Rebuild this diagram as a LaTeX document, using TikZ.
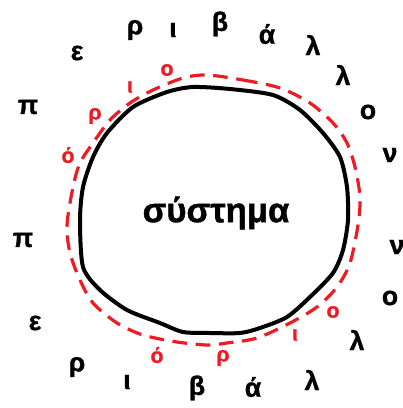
\documentclass[tikz,border=0pt]{standalone}
\usepackage{fontspec}
\setmainfont{Liberation Sans}[BoldFont={Liberation Sans Bold}, BoldFeatures={FakeBold=1.2}]
\definecolor{boundred}{RGB}{237,28,36}
\tikzset{every picture/.style={line width=0.75pt}}
\tikzset{
  envletter/.style={inner sep=0.75pt, font=\fontsize{20}{20}\selectfont\bfseries},
  boundletter/.style={inner sep=0.75pt, text=boundred, font=\fontsize{16}{16}\selectfont\bfseries},
  sysname/.style={inner sep=0.75pt, font=\fontsize{26}{26}\selectfont\bfseries},
}

\begin{document}
\begin{tikzpicture}[x=0.75pt,y=0.75pt,yscale=-1,xscale=1]
\useasboundingbox (0,0) rectangle (403,408); %set diagram size 403 x 408

% System outline
\draw [line width=3pt, line join=round] plot [smooth cycle, tension=0.45] coordinates {(193,87) (230,89) (273,95) (300,110) (323,133) (340,157) (347,187) (348,220) (343,250) (333,273) (310,297) (287,317) (260,328) (240,333) (210,333) (183,332) (160,323) (127,310) (100,290) (83,267) (80,220) (83,187) (93,157) (107,133) (133,107) (167,92)} ;

% Boundary (dashed)
\draw [color=boundred, line width=2.4pt, dash pattern=on 11pt off 6.5pt] plot [smooth cycle, tension=0.5] coordinates {(207,75) (243,80) (280,88) (310,103) (333,123) (347,143) (355,167) (360,197) (358,225) (350,263) (337,287) (317,307) (290,323) (257,338) (227,343) (207,345) (177,342) (143,335) (117,323) (93,303) (80,280) (70,253) (67,225) (73,187) (80,163) (93,143) (110,120) (130,103) (153,90) (183,78)} ;

% Text Node
\draw (216,213) node [sysname] (sys) {σύστημα};

% Text Node: environment, upper arc
\draw (28,107) node [envletter] (eup1) {π};
\draw (77,53) node [envletter] (eup2) {ε};
\draw (135,30) node [envletter] (eup3) {ρ};
\draw (173,30) node [envletter] (eup4) {ι};
\draw (220,24) node [envletter] (eup5) {β};
\draw (267,34) node [envletter] (eup6) {ά};
\draw (313,45) node [envletter] (eup7) {λ};
\draw (343,75) node [envletter] (eup8) {λ};
\draw (368,112) node [envletter] (eup9) {ο};
\draw (390,155) node [envletter] (eup10) {ν};

% Text Node: environment, lower arc
\draw (23,240) node [envletter] (elo1) {π};
\draw (35,323) node [envletter] (elo2) {ε};
\draw (77,367) node [envletter] (elo3) {ρ};
\draw (127,382) node [envletter] (elo4) {ι};
\draw (197,388) node [envletter] (elo5) {β};
\draw (253,387) node [envletter] (elo6) {ά};
\draw (312,380) node [envletter] (elo7) {λ};
\draw (357,340) node [envletter] (elo8) {λ};
\draw (390,298) node [envletter] (elo9) {ο};
\draw (397,247) node [envletter] (elo10) {ν};

% Text Node: boundary, upper left
\draw (68,155) node [boundletter] (bup1) {ό};
\draw (95,116) node [boundletter] (bup2) {ρ};
\draw (130,87) node [boundletter] (bup3) {ι};
\draw (167,70) node [boundletter] (bup4) {ο};

% Text Node: boundary, lower right
\draw (157,355) node [boundletter] (blo1) {ό};
\draw (223,358) node [boundletter] (blo2) {ρ};
\draw (295,335) node [boundletter] (blo3) {ι};
\draw (333,312) node [boundletter] (blo4) {ο};

\end{tikzpicture}
\end{document}
